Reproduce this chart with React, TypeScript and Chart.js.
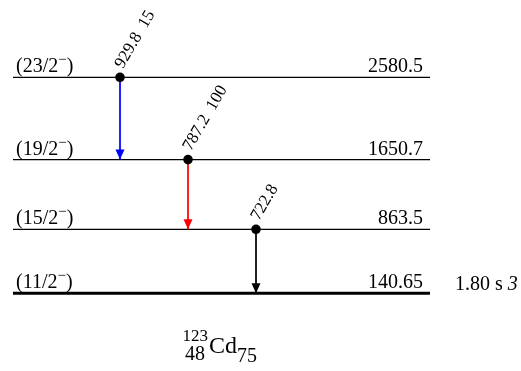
import React, { useEffect, useRef } from "react";
import { Chart, registerables } from "chart.js";

Chart.register(...registerables);

// ---- data ----
const levelEnergies = [2580.5, 1650.7, 863.5, 140.65];
const levelEnergyLabels = ["2580.5", "1650.7", "863.5", "140.65"];
const levelSpins = ["(23/2", "(19/2", "(15/2", "(11/2"];
const levelParities = ["−", "−", "−", "−"];
const groundHalfLife = "1.80 s";
const groundHalfLifeUnc = "3";

const gammaEnergies = ["929.8", "787.2", "722.8"];
const gammaIntensities = ["15", "100", ""];
const gammaFrom = [2580.5, 1650.7, 863.5];
const gammaTo = [1650.7, 863.5, 140.65];
const gammaColors = ["#0000ff", "#ff0000", "#000000"];

const nuclideMass = "123";
const nuclideZ = "48";
const nuclideSymbol = "Cd";
const nuclideN = "75";

// ---- layout (not data) ----
const W = 521;
const H = 371;
const LEVEL_X0 = 13;
const LEVEL_X1 = 430;
const GAMMA_X = [120, 188, 256];
// energy -> pixel mapping of the drawing: y = Y_REF_PX - (E - E_REF) * PX_PER_KEV
const Y_REF_PX = 293.3;
const E_REF = 140.65;
const PX_PER_KEV = 0.08853;
const FONT = "'Liberation Serif', 'Times New Roman', serif";

const energyAtPixel = (py: number) => E_REF + (Y_REF_PX - py) / PX_PER_KEV;

const textPlugin = {
  id: "levelText",
  afterDatasetsDraw(chart: any) {
    const ctx = chart.ctx as CanvasRenderingContext2D;
    const xs = chart.scales.x;
    const ys = chart.scales.y;
    ctx.save();
    ctx.fillStyle = "#000";
    ctx.textBaseline = "alphabetic";

    // arrowheads
    gammaTo.forEach((e, i) => {
      const px = xs.getPixelForValue(GAMMA_X[i]);
      const py = ys.getPixelForValue(e);
      ctx.fillStyle = gammaColors[i];
      ctx.beginPath();
      ctx.moveTo(px, py);
      ctx.lineTo(px - 4.5, py - 10);
      ctx.lineTo(px + 4.5, py - 10);
      ctx.closePath();
      ctx.fill();
    });
    ctx.fillStyle = "#000";

    // level labels
    levelEnergies.forEach((e, i) => {
      const py = ys.getPixelForValue(e);
      ctx.font = `20px ${FONT}`;
      ctx.textAlign = "left";
      const x0 = 16;
      ctx.fillText(levelSpins[i], x0, py - 5);
      const w1 = ctx.measureText(levelSpins[i]).width;
      ctx.font = `15px ${FONT}`;
      ctx.fillText(levelParities[i], x0 + w1, py - 13);
      const w2 = ctx.measureText(levelParities[i]).width;
      ctx.font = `20px ${FONT}`;
      ctx.fillText(")", x0 + w1 + w2, py - 5);
      ctx.textAlign = "right";
      ctx.fillText(levelEnergyLabels[i], 423, py - 5);
    });

    // half-life
    const gy = ys.getPixelForValue(levelEnergies[levelEnergies.length - 1]);
    ctx.textAlign = "left";
    ctx.font = `20px ${FONT}`;
    const hl = groundHalfLife + " ";
    ctx.fillText(hl, 455, gy - 3);
    const hw = ctx.measureText(hl).width;
    ctx.font = `italic 20px ${FONT}`;
    ctx.fillText(groundHalfLifeUnc, 455 + hw, gy - 3);

    // gamma labels
    gammaFrom.forEach((e, i) => {
      const px = xs.getPixelForValue(GAMMA_X[i]);
      const py = ys.getPixelForValue(e);
      ctx.save();
      ctx.translate(px + 3, py - 8);
      ctx.rotate(-Math.PI / 3);
      ctx.font = `17px ${FONT}`;
      ctx.textAlign = "left";
      const label = gammaIntensities[i]
        ? `${gammaEnergies[i]}  ${gammaIntensities[i]}`
        : gammaEnergies[i];
      ctx.fillText(label, 0, 0);
      ctx.restore();
    });

    // nuclide label
    ctx.font = `24px ${FONT}`;
    ctx.textAlign = "left";
    const cdX = 209;
    const cdY = 353;
    ctx.fillText(nuclideSymbol, cdX, cdY);
    const cw = ctx.measureText(nuclideSymbol).width;
    ctx.font = `17px ${FONT}`;
    ctx.textAlign = "right";
    ctx.fillText(nuclideMass, cdX - 1, cdY - 12);
    ctx.font = `20px ${FONT}`;
    ctx.fillText(nuclideZ, cdX - 4, cdY + 7);
    ctx.textAlign = "left";
    ctx.fillText(nuclideN, cdX + cw, cdY + 9);

    ctx.restore();
  },
};

export default function App() {
  const ref = useRef<HTMLCanvasElement>(null);
  useEffect(() => {
    document.body.style.margin = "0";
    const canvas = ref.current!;
    const datasets: any[] = [];
    gammaFrom.forEach((e, i) => {
      datasets.push({
        data: [
          { x: GAMMA_X[i], y: e },
          { x: GAMMA_X[i], y: gammaTo[i] },
        ],
        borderColor: gammaColors[i],
        borderWidth: 1,
        pointRadius: [4.8, 0],
        pointBackgroundColor: "#000",
        pointBorderColor: "#000",
        pointBorderWidth: 0,
        showLine: true,
        order: 0,
      });
    });
    levelEnergies.forEach((e, i) => {
      datasets.push({
        data: [
          { x: LEVEL_X0, y: e },
          { x: LEVEL_X1, y: e },
        ],
        borderColor: "#000",
        borderWidth: i === levelEnergies.length - 1 ? 3 : 1.3,
        pointRadius: 0,
        showLine: true,
        order: 1,
      });
    });
    const chart = new Chart(canvas, {
      type: "scatter",
      data: { datasets },
      options: {
        animation: false,
        responsive: false,
        maintainAspectRatio: false,
        layout: { padding: 0 },
        clip: false,
        plugins: { legend: { display: false }, tooltip: { enabled: false } },
        scales: {
          x: { type: "linear", min: 0, max: W, display: false },
          y: { type: "linear", min: energyAtPixel(H), max: energyAtPixel(0), display: false },
        },
      } as any,
      plugins: [textPlugin],
    });
    // make the scales map onto the drawing's pixel geometry exactly
    const ca = chart.chartArea;
    const opts: any = chart.options.scales;
    opts.x.min = ca.left;
    opts.x.max = ca.right;
    opts.y.min = energyAtPixel(ca.bottom);
    opts.y.max = energyAtPixel(ca.top);
    chart.update("none");
    return () => chart.destroy();
  }, []);
  return (
    <div style={{ width: W, height: H, background: "#fff" }}>
      <canvas ref={ref} width={W} height={H} />
    </div>
  );
}
